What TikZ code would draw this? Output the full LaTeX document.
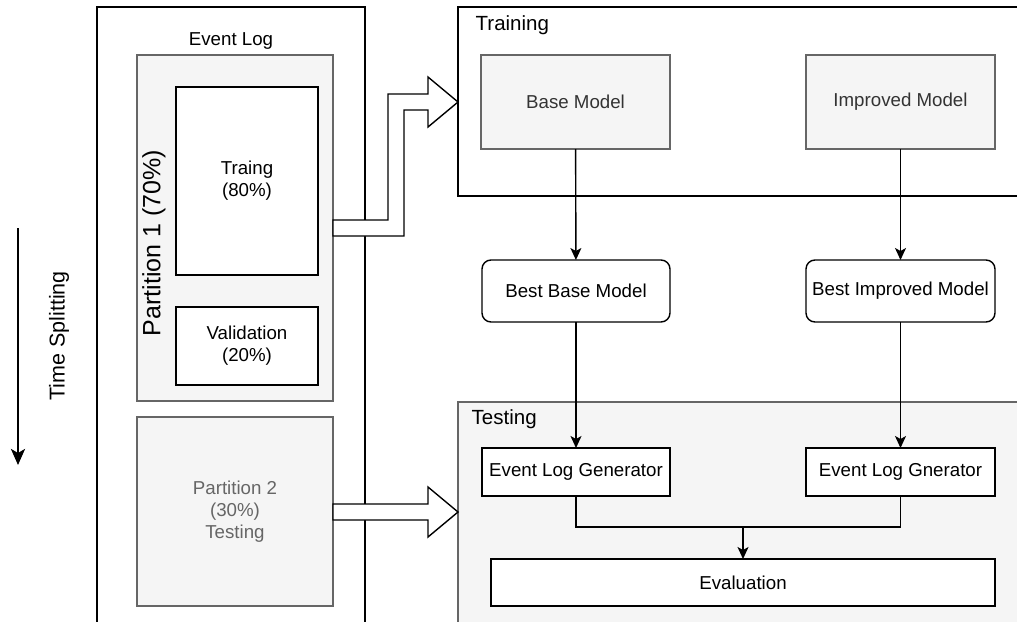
\documentclass[tikz,border=0pt]{standalone}
\usepackage{fontspec}
\setmainfont{Liberation Sans}
\usetikzlibrary{arrows.meta,calc}
\definecolor{boxfill}{HTML}{F5F5F5}
\definecolor{boxline}{HTML}{666666}
\definecolor{boxtext}{HTML}{333333}
\begin{document}
\begin{tikzpicture}[x=1pt,y=-1pt,line width=1.4pt,
  box/.style={draw,rectangle,inner sep=0pt,outer sep=0pt,align=center,
    font=\fontsize{18.7}{22}\selectfont},
  graybox/.style={box,draw=boxline,fill=boxfill,text=boxtext},
  whitebox/.style={box,fill=white},
  roundbox/.style={whitebox,rounded corners=9pt},
  title/.style={anchor=west,inner sep=0pt,font=\fontsize{20.5}{24}\selectfont},
  flow/.style={-{Stealth[length=12pt,width=11pt,inset=3pt]}},
  bigarrow/.style={draw,fill=white,line join=miter},
]
\useasboundingbox (0,0) rectangle (1017,621);
\clip (0,0) rectangle (1017,621);

% event log column
\node[box,minimum width=268,minimum height=640,anchor=north west] (log) at (97,7) {};
\node[inner sep=0pt,font=\fontsize{18.7}{22}\selectfont] (loglbl) at (231,41) {Event Log};
\node[graybox,minimum width=196,minimum height=346] (p1) at (235,228) {};
\node[rotate=90,inner sep=0pt,font=\fontsize{25}{29}\selectfont] (p1lbl) at (154,243) {Partition 1 (70\%)};
\node[whitebox,minimum width=142,minimum height=188] (tr) at (247,181) {Traing\\(80\%)};
\node[whitebox,minimum width=142,minimum height=78] (val) at (247,346) {Validation\\(20\%)};
\node[graybox,minimum width=196,minimum height=189,text=boxline] (p2) at (235,511.5) {Partition 2\\(30\%)\\Testing};

% time axis
\coordinate (tsTop) at (18,228);
\coordinate (tsBot) at (18,465);
\draw[line width=2.6pt,-{Stealth[length=16pt,width=14pt,inset=4pt]}] (tsTop) -- (tsBot);
\node[rotate=90,inner sep=0pt,font=\fontsize{21.5}{25}\selectfont] (tslbl) at (59,336) {Time Splitting};

% training and testing stages
\node[box,fill=white,minimum width=580,minimum height=189,anchor=north west] (train) at (458,7) {};
\node[title] (trainlbl) at (475,25) {Training};
\node[graybox,minimum width=580,minimum height=240,anchor=north west] (test) at (458,402) {};
\node[title] (testlbl) at (471,419) {Testing};

\node[graybox,minimum width=189,minimum height=94] (base) at (575.5,102) {Base Model};
\node[graybox,minimum width=189,minimum height=94] (impr) at (900.5,102) {Improved Model};
\node[roundbox,minimum width=188,minimum height=62] (bbest) at (576,291) {Best Base Model};
\node[roundbox,minimum width=189,minimum height=62] (ibest) at (900.5,291) {Best Improved Model};
\node[whitebox,minimum width=188,minimum height=48] (elg1) at (576,472) {Event Log Generator};
\node[whitebox,minimum width=189,minimum height=48] (elg2) at (900.5,472) {Event Log Gnerator};
\node[whitebox,minimum width=504,minimum height=47] (eval) at (743,582.5) {Evaluation};

\draw[flow] (base) -- (bbest);
\draw[flow] (bbest) -- (elg1);
\draw[flow] (impr) -- (ibest);
\draw[flow] (ibest) -- (elg2);
\draw (elg1.south) -- ++(0,31) -| (elg2.south);
\draw[flow] ($(eval.north)+(0,-32)$) -- (eval.north);

% data flow block arrows
\draw[bigarrow] (p1.east |- 0,220) -- (388,220) -- (388,94) -- (428,94) -- (428,77)
  -- (train.west |- 0,102) -- (428,127) -- (428,110) -- (404,110) -- (404,236)
  -- (p1.east |- 0,236) -- cycle;
\draw[bigarrow] (p2.east |- 0,504) -- (428,504) -- (428,487) -- (test.west |- 0,512)
  -- (428,537) -- (428,520) -- (p2.east |- 0,520) -- cycle;
\end{tikzpicture}
\end{document}
